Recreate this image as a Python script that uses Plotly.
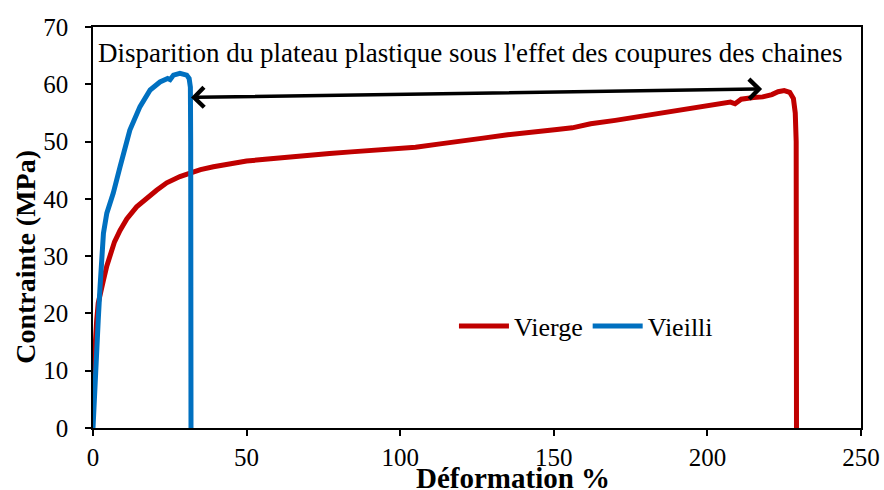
import plotly.graph_objects as go

# Tensile curves: strain (%) vs stress (MPa)
vierge_x = [0, 0.4, 0.8, 1.2, 1.7, 2.3, 3.4, 4.5, 5.5, 7.0, 8.8, 11.0, 14.2, 17.5, 20.7,
            24.0, 28.3, 31.6, 35.0, 39.2, 45.6, 50, 56, 63, 70, 77, 84, 91, 98, 105,
            113, 120, 127, 135, 142, 151, 156, 162, 170, 178, 184, 189, 195, 200, 204,
            207.5, 209, 211, 215, 218, 221, 223, 225, 226.8, 228.0, 228.6, 228.9, 229.0,
            229.0, 229.0]
vierge_y = [8.0, 12.5, 15.9, 18.8, 21.8, 23.5, 25.8, 28.3, 30.3, 32.5, 34.5, 36.5, 38.6,
            40.2, 41.5, 42.8, 43.9, 44.5, 45.1, 45.6, 46.3, 46.6, 46.9, 47.3, 47.5, 47.9,
            48.2, 48.5, 48.8, 49.0, 49.6, 50.0, 50.6, 51.2, 51.5, 52.1, 52.4, 53.1, 53.7,
            54.4, 55.0, 55.5, 55.9, 56.3, 56.8, 56.9, 56.6, 57.4, 57.7, 57.8, 58.2, 58.7,
            58.9, 58.6, 57.5, 55.0, 50.0, 40.0, 20.0, 0.0]

vieilli_x = [0, 0.3, 0.7, 1.2, 1.7, 2.3, 2.8, 3.4, 4.5, 6.6, 8.8, 12.0, 15.3, 18.6, 21.8,
             24.3, 25.1, 26.2, 28.3, 30.5, 31.3, 31.7, 31.8, 31.9, 31.9]
vieilli_y = [0, 4.0, 8.5, 13.0, 18.8, 24.7, 30.0, 34.0, 37.5, 41.0, 45.6, 52.0, 56.1, 59.0,
             60.4, 61.0, 60.8, 61.6, 61.9, 61.6, 61.0, 59.5, 50.0, 25.0, 0.0]

# Double arrow endpoints (strain %, stress MPa)
arrow_start = (218.3, 59.2)
arrow_end = (31.9, 57.7)
arrow_text = "Disparition du plateau plastique sous l'effet des coupures des chaines"

x_ticks = [0, 50, 100, 150, 200, 250]
y_ticks = [0, 10, 20, 30, 40, 50, 60, 70]

SERIF = "Liberation Serif, Times New Roman, serif"

fig = go.Figure()
fig.add_trace(go.Scatter(x=vierge_x, y=vierge_y, mode="lines", name="Vierge",
                         line=dict(color="#C00000", width=5)))
fig.add_trace(go.Scatter(x=vieilli_x, y=vieilli_y, mode="lines", name="Vieilli",
                         line=dict(color="#0070C0", width=5)))

# Double-headed arrow between the two failure plateaus
fig.add_annotation(x=arrow_end[0], y=arrow_end[1], ax=arrow_start[0], ay=arrow_start[1],
                   xref="x", yref="y", axref="x", ayref="y", text="",
                   showarrow=True, arrowhead=4, startarrowhead=4, arrowside="end+start",
                   arrowsize=1.1, startarrowsize=1.1, arrowwidth=3.5, arrowcolor="black")
fig.add_annotation(x=0.491, y=0.935, xref="paper", yref="paper", text=arrow_text,
                   showarrow=False, font=dict(family=SERIF, size=27, color="black"),
                   xanchor="center", yanchor="middle")

axis_common = dict(showline=True, linecolor="black", linewidth=1.5, mirror=True,
                   ticks="outside", ticklen=6, tickwidth=1.5, tickcolor="black",
                   showgrid=False, zeroline=False, automargin=False,
                   tickfont=dict(family=SERIF, size=25, color="black"))

fig.update_xaxes(range=[0, 250], tickvals=x_ticks, **axis_common)
fig.update_yaxes(range=[0, 70], tickvals=y_ticks, ticklabelstandoff=12, **axis_common)

# Axis titles
fig.add_annotation(x=0.547, y=-0.125, xref="paper", yref="paper", text="<b>Déformation %</b>",
                   showarrow=False, font=dict(family=SERIF, size=29, color="black"),
                   xanchor="center", yanchor="middle")
fig.add_annotation(x=-0.088, y=0.428, xref="paper", yref="paper", text="<b>Contrainte (MPa)</b>",
                   showarrow=False, textangle=-90, font=dict(family=SERIF, size=28, color="black"),
                   xanchor="center", yanchor="middle")

fig.update_layout(
    width=884, height=490,
    margin=dict(l=93, r=23, t=27, b=62),
    paper_bgcolor="white", plot_bgcolor="white",
    showlegend=True,
    legend=dict(orientation="h", x=0.47, y=0.254, xanchor="left", yanchor="middle",
                font=dict(family=SERIF, size=26, color="black"),
                bgcolor="rgba(0,0,0,0)", itemwidth=50, tracegroupgap=0),
)

fig.write_html("out.html")
